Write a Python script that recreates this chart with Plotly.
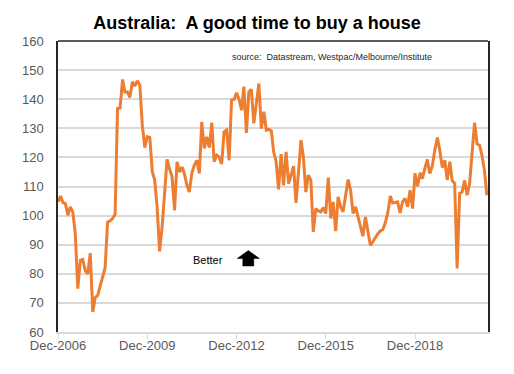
import pandas as pd
import plotly.graph_objects as go

# Westpac-MI "time to buy a dwelling" index, monthly from Dec-2006
start_month = "2006-12-01"
index_values = [
    104.7, 106.7, 104.4, 104.2, 100.1, 103.0, 101.3, 93.8, 74.9, 84.6,
    84.9, 81.0, 80.0, 87.1, 66.9, 71.8, 72.6, 76.0, 79.5, 82.0,
    97.8, 98.2, 99.0, 100.5, 136.8, 137.0, 146.8, 142.5, 142.5, 140.6,
    146.0, 144.5, 146.3, 144.8, 131.0, 123.4, 127.1, 126.8, 115.0, 112.4,
    103.0, 87.7, 96.0, 107.0, 119.3, 116.0, 113.3, 101.8, 118.5, 115.0,
    116.7, 114.5, 110.5, 108.1, 114.5, 117.3, 119.0, 114.5, 132.2, 123.1,
    127.1, 123.4, 131.9, 118.5, 120.8, 120.2, 117.7, 128.8, 129.4, 119.0,
    139.7, 139.9, 142.2, 139.9, 136.2, 144.3, 128.4, 142.5, 143.4, 131.7,
    138.5, 145.4, 129.9, 135.7, 129.4, 129.6, 129.1, 122.0, 118.5, 109.0,
    121.1, 110.4, 121.9, 111.0, 113.9, 117.0, 104.4, 115.6, 125.9, 120.2,
    108.1, 113.9, 112.2, 94.4, 102.4, 101.6, 101.3, 102.8, 100.7, 113.1,
    99.0, 104.7, 94.7, 106.4, 103.0, 101.3, 107.0, 112.4, 108.7, 100.7,
    103.0, 99.5, 96.0, 92.9, 99.5, 95.0, 89.8, 91.0, 92.5, 93.8,
    94.7, 95.2, 97.5, 101.0, 106.7, 104.4, 104.5, 104.7, 100.9, 104.7,
    105.9, 103.0, 108.7, 102.4, 114.5, 110.1, 114.7, 112.7, 116.2, 119.3,
    114.5, 117.0, 122.5, 126.8, 122.5, 116.5, 119.0, 112.2, 118.5, 112.1,
    111.0, 81.8, 107.6, 108.1, 112.1, 107.0, 111.0, 122.5, 131.9, 124.6,
    124.2, 120.8, 115.6, 107.0,
]
tick_dates = ["2006-12-01", "2009-12-01", "2012-12-01", "2015-12-01", "2018-12-01"]
tick_labels = ["Dec-2006", "Dec-2009", "Dec-2012", "Dec-2015", "Dec-2018"]
y_ticks = [60, 70, 80, 90, 100, 110, 120, 130, 140, 150, 160]

dates = pd.date_range(start_month, periods=len(index_values), freq="MS")

FONT = "Arial, 'Liberation Sans', sans-serif"
GREY = "#595959"
GRID = "#d9d9d9"

fig = go.Figure()
fig.add_trace(go.Scatter(
    x=dates, y=index_values, mode="lines",
    line=dict(color="#ED7D31", width=3),
    showlegend=False, hoverinfo="skip",
))

# Plot area pixel geometry helpers (for annotations in paper coords)
L, R, T, B = 58, 488, 41, 332
def px(x):
    return (x - L) / (R - L)
def py(y):
    return (B - y) / (B - T)

shapes = [
    # white box behind "Better" label (hides part of the gridline)
    dict(type="rect", xref="paper", yref="paper",
         x0=px(182), x1=px(338), y0=py(285), y1=py(250),
         fillcolor="white", line=dict(width=0), layer="below"),
    # top border
    dict(type="line", xref="paper", yref="paper", x0=0, x1=1, y0=1, y1=1,
         line=dict(color="#262626", width=1.5)),
    # block up-arrow
    dict(type="path", xref="paper", yref="paper",
         path=("M {a},{b} L {c},{d} L {e},{d} L {e},{f} L {g},{f} L {g},{d} L {h},{d} Z").format(
             a=px(248.3), b=py(250.5),
             c=px(259.5), d=py(258.5),
             e=px(253.8), f=py(266),
             g=px(242.8), h=px(237.2)),
         fillcolor="black", line=dict(color="black", width=0.5)),
]

fig.update_layout(
    width=514, height=374,
    margin=dict(l=L, r=514 - R, t=T, b=374 - B),
    paper_bgcolor="white", plot_bgcolor="white",
    font=dict(family=FONT, color=GREY, size=13),
    title=dict(text="<b>Australia:  A good time to buy a house</b>",
               x=0.5, xanchor="center", y=1 - 23 / 374, yanchor="middle",
               font=dict(family=FONT, size=18, color="black")),
    shapes=shapes,
    annotations=[
        dict(text="source:  Datastream, Westpac/Melbourne/Institute",
             xref="paper", yref="paper", x=px(332), y=py(57), showarrow=False,
             xanchor="center", yanchor="middle",
             font=dict(family=FONT, size=9, color="#262626")),
        dict(text="Better", xref="paper", yref="paper", x=px(207.5), y=py(260),
             showarrow=False, xanchor="center", yanchor="middle",
             font=dict(family=FONT, size=11, color="black")),
    ],
)

fig.update_xaxes(
    type="date",
    range=[dates[0], pd.Timestamp("2021-05-15")],
    tickvals=tick_dates, ticktext=tick_labels,
    ticks="outside", ticklen=5, tickcolor=GRID, tickwidth=1,
    ticklabelstandoff=-4,
    showgrid=False, showline=True, linecolor=GRID, linewidth=1.5,
    zeroline=False, tickfont=dict(size=13, color=GREY),
)
fig.update_yaxes(
    range=[60, 160], tickvals=y_ticks,
    showgrid=True, gridcolor=GRID, gridwidth=1.5,
    showline=True, linecolor="#262626", linewidth=1.5, mirror=True,
    zeroline=False, ticks="", ticklabelstandoff=10,
    tickfont=dict(size=13, color=GREY),
)

fig.write_html("out.html", config={"displayModeBar": False},
               post_script="document.body.style.margin='0';")
